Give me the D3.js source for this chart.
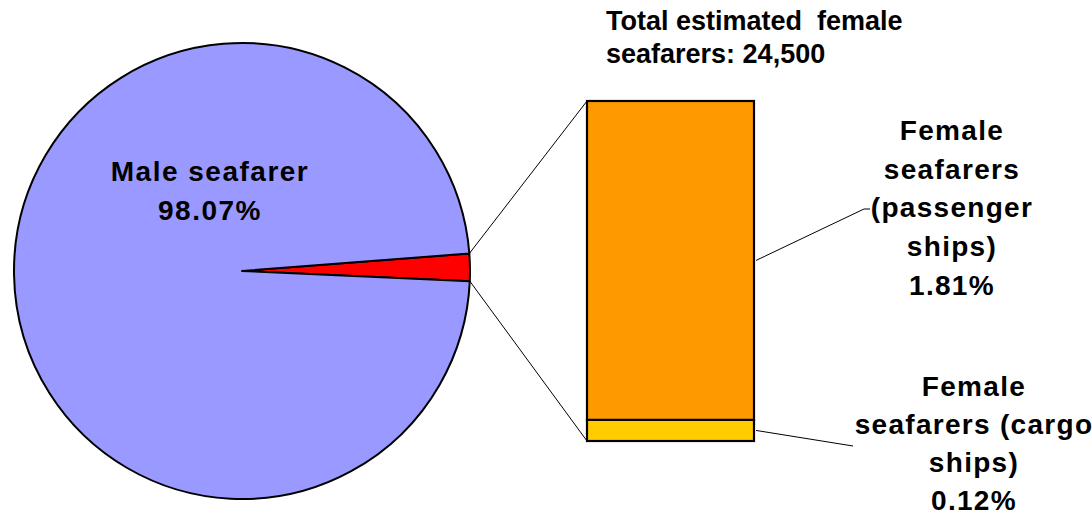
<!DOCTYPE html>
<html><head><meta charset="utf-8">
<script src="https://cdn.jsdelivr.net/npm/d3@7"></script>
<style>body{margin:0;background:#fff}svg{display:block}text{font-family:"Liberation Sans",Arial,sans-serif;font-weight:bold;fill:#000}</style>
</head><body>
<svg id="c" width="1092" height="515"></svg>
<script>
const pieCategories = ["Female seafarers", "Male seafarer"];
const pieValues = [1.93, 98.07];
const pieColors = ["#FF0000", "#9999FF"];
const barCategories = ["Female seafarers (cargo ships)", "Female seafarers (passenger ships)"];
const barValues = [0.12, 1.81];
const barColors = ["#FFCC00", "#FF9900"];
const titleLines = ["Total estimated\u00a0\u00a0female", "seafarers: 24,500"];
const maleLabel = ["Male seafarer", "98.07%"];
const passengerLabel = ["Female", "seafarers", "(passenger", "ships)", "1.81%"];
const cargoLabel = ["Female", "seafarers (cargo", "ships)", "0.12%"];

const svg = d3.select("#c");
const cx = 242, cy = 271, R = 228;
const a0 = 85.6 * Math.PI / 180;
const pie = d3.pie().sort(null).startAngle(a0).endAngle(a0 + 2 * Math.PI);
const arcs = pie(pieValues);
const arc = d3.arc().innerRadius(0).outerRadius(R);
const g = svg.append("g").attr("transform", `translate(${cx},${cy})`);
g.selectAll("path").data(arcs).enter().append("path")
  .attr("d", arc).attr("fill", (d, i) => pieColors[i])
  .attr("stroke", "#000").attr("stroke-width", 2).attr("stroke-linejoin", "round");

// bar
const bx0 = 587, bx1 = 754;
const y = d3.scaleLinear().domain([0, d3.sum(barValues)]).range([441, 101]);
let acc = 0;
const stacks = barValues.map(v => { const s = {y0: acc, y1: acc + v}; acc += v; return s; });
svg.selectAll("rect.bar").data(stacks).enter().append("rect")
  .attr("x", bx0).attr("width", bx1 - bx0)
  .attr("y", d => y(d.y1)).attr("height", d => y(d.y0) - y(d.y1))
  .attr("fill", (d, i) => barColors[i]).attr("stroke", "#000").attr("stroke-width", 2.2);

// connector lines
const fa = arcs[0];
const pt = a => [cx + R * Math.sin(a), cy - R * Math.cos(a)];
const pTop = pt(fa.startAngle), pBot = pt(fa.endAngle);
svg.append("line").attr("x1", pTop[0]).attr("y1", pTop[1]).attr("x2", bx0).attr("y2", y(d3.sum(barValues)))
  .attr("stroke", "#000").attr("stroke-width", 1);
svg.append("line").attr("x1", pBot[0]).attr("y1", pBot[1]).attr("x2", bx0).attr("y2", y(0))
  .attr("stroke", "#000").attr("stroke-width", 1);

// leader lines
const midP = (y(stacks[1].y0) + y(stacks[1].y1)) / 2;
const midC = (y(stacks[0].y0) + y(stacks[0].y1)) / 2;
svg.append("polyline").attr("points", `${bx1+2},${midP} 864,209 870,209`).attr("fill", "none").attr("stroke", "#000").attr("stroke-width", 1);
svg.append("line").attr("x1", bx1 + 2).attr("y1", midC).attr("x2", 853).attr("y2", 446).attr("stroke", "#000").attr("stroke-width", 1);

// texts
svg.selectAll("text.title").data(titleLines).enter().append("text")
  .attr("x", 606).attr("y", (d, i) => 30 + i * 33).attr("font-size", 27).text(d => d);
function block(lines, x, y0, dy, size, ls) {
  svg.append("g").selectAll("text").data(lines).enter().append("text")
    .attr("x", x).attr("y", (d, i) => y0 + i * dy).attr("text-anchor", "middle")
    .attr("font-size", size).attr("letter-spacing", ls).text(d => d);
}
block(maleLabel, 210, 181, 39, 28, 1.5);
block(passengerLabel, 952, 140, 38.7, 28, 1.3);
block(cargoLabel, 974, 396, 38, 28, 1.3);
</script>
</body></html>
